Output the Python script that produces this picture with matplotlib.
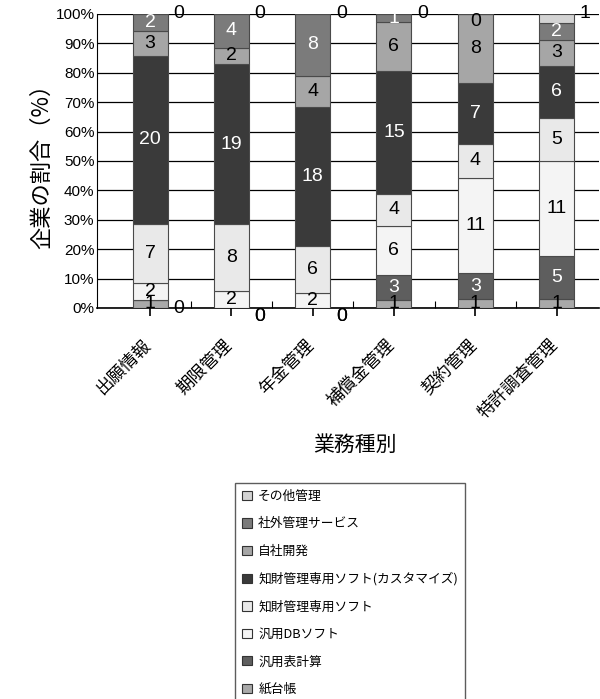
import matplotlib
matplotlib.use('Agg')
import matplotlib.pyplot as plt
import matplotlib.transforms as mtransforms
import numpy as np
from matplotlib.patches import Patch
from matplotlib import font_manager

# ---------------- data ----------------
categories = ['出願情報', '期限管理', '年金管理', '補償金管理', '契約管理', '特許調査管理']
series_names = ['紙台帳', '汎用表計算', '汎用DBソフト', '知財管理専用ソフト',
                '知財管理専用ソフト(カスタマイズ)', '自社開発', '社外管理サービス', 'その他管理']
kami = [1, 0, 0, 1, 1, 1]
hyokeisan = [0, 0, 0, 3, 3, 5]
db_soft = [2, 2, 2, 6, 11, 11]
senyo = [7, 8, 6, 4, 4, 5]
custom = [20, 19, 18, 15, 7, 6]
jisha = [3, 2, 4, 6, 8, 3]
shagai = [2, 4, 8, 1, 0, 2]
sonota = [0, 0, 0, 0, 0, 1]
yticks = ['0%', '10%', '20%', '30%', '40%', '50%', '60%', '70%', '80%', '90%', '100%']

series = [kami, hyokeisan, db_soft, senyo, custom, jisha, shagai, sonota]
colors = ['#a9a9a9', '#5e5e5e', '#f4f4f4', '#e9e9e9', '#3a3a3a', '#a6a6a6', '#7b7b7b', '#d3d3d3']
txt_colors = ['black', 'white', 'black', 'black', 'white', 'black', 'white', 'black']

# fonts
available = {f.name for f in font_manager.fontManager.ttflist}
num_font = 'Liberation Sans Narrow' if 'Liberation Sans Narrow' in available else 'Liberation Sans'
jp_font = 'Noto Sans CJK JP'
plt.rcParams['font.family'] = [jp_font, 'DejaVu Sans']

fig = plt.figure(figsize=(6.0, 6.99), dpi=100)
ax = fig.add_axes([0.162, 0.5594, 0.836, 0.4206])

x = np.arange(len(categories))
data = np.array(series, dtype=float)
totals = data.sum(axis=0)
frac = data / totals
width = 0.43

bottom = np.zeros(len(categories))
for j in range(len(series)):
    ax.bar(x, frac[j], width, bottom=bottom, color=colors[j],
           edgecolor='#4a4a4a', linewidth=0.8, zorder=3)
    bottom += frac[j]

# value labels
lab_size = 14
for i in range(len(categories)):
    b = 0.0
    for j in range(len(series)):
        v = int(data[j, i])
        f = frac[j, i]
        right = x[i] + width / 2 + 0.07
        if j in (0, 1) and v == 0:
            ax.text(right, b, '0', ha='left', va='top', fontsize=lab_size,
                    family=num_font, color='black', zorder=5)
        elif j == 6 and v == 0:
            ax.text(x[i], b + 0.005, '0', ha='center', va='top', fontsize=lab_size,
                    family=num_font, color='black', zorder=5)
        elif j == 7:
            if not (v == 0 and data[6, i] == 0):
                ax.text(right, b + f, str(v), ha='left', va='center', fontsize=lab_size,
                        family=num_font, color='black', zorder=5)
        else:
            ax.text(x[i], b + f / 2, str(v), ha='center', va='center', fontsize=lab_size,
                    family=num_font, color=txt_colors[j], zorder=5)
        b += f

ax.set_xlim(-0.65, 5.52)
ax.set_ylim(0, 1.0)
ax.set_yticks(np.linspace(0, 1, 11))
ax.set_yticklabels(yticks, family=num_font, fontsize=11)
ax.yaxis.grid(True, color='black', linewidth=0.9, zorder=0)
ax.set_axisbelow(True)
ax.tick_params(axis='y', length=0, pad=2)

ax.set_xticks(x)
ax.set_xticklabels(categories, rotation=45, ha='right', va='top',
                   rotation_mode='anchor', fontsize=12.5)
ax.set_xticks(x[:-1] + 0.5, minor=True)
ax.tick_params(axis='x', which='major', direction='out', length=6, width=1.2, pad=14)
ax.tick_params(axis='x', which='minor', direction='in', length=5, width=0.8)
shift = mtransforms.ScaledTranslation(-6 / 72, 0, fig.dpi_scale_trans)
for lbl in ax.get_xticklabels():
    lbl.set_transform(lbl.get_transform() + shift)

for s in ['top', 'right']:
    ax.spines[s].set_visible(False)
ax.spines['left'].set_color('black')
ax.spines['bottom'].set_color('black')
ax.spines['bottom'].set_linewidth(1.2)

fig.text(0.07, 0.770, '企業の割合（%）', rotation=90, ha='center', va='center', fontsize=16)
fig.text(0.592, 0.363, '業務種別', ha='center', va='center', fontsize=15)

handles = [Patch(facecolor=colors[j], edgecolor='#333333', linewidth=0.8, label=series_names[j])
           for j in range(len(series))][::-1]
leg = fig.legend(handles=handles, loc='upper left', bbox_to_anchor=(0.392, 0.309),
                 fontsize=9.2, frameon=True, fancybox=False, edgecolor='#333333',
                 handlelength=0.75, handleheight=0.75, handletextpad=0.5,
                 labelspacing=1.13, borderpad=0.55, borderaxespad=0)
leg.get_frame().set_linewidth(1.0)

fig.savefig('out.png', dpi=100)
